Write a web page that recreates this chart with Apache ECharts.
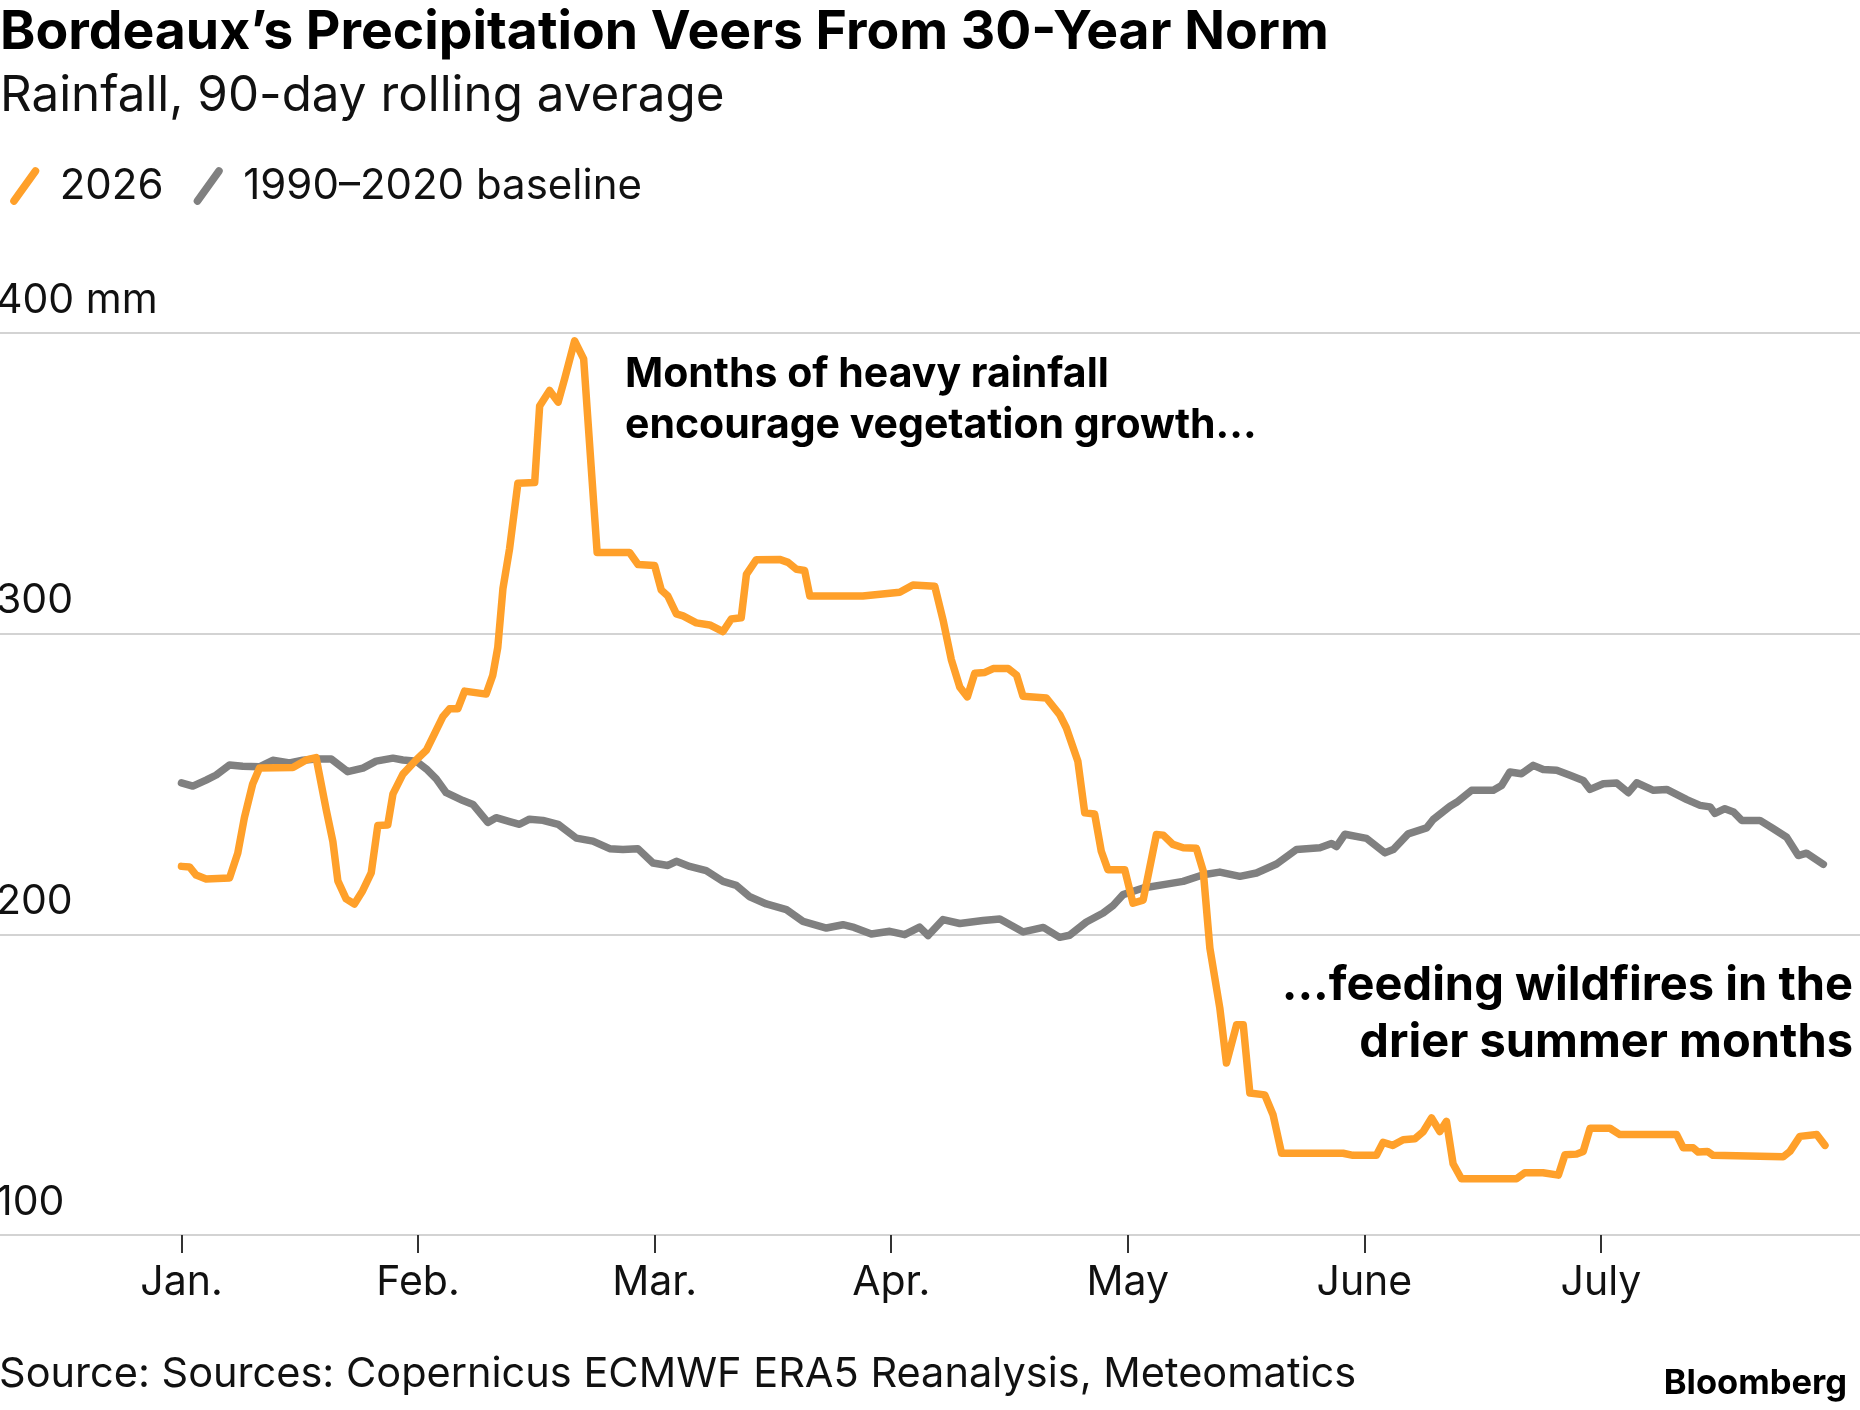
<!DOCTYPE html>
<html>
<head>
<meta charset="utf-8">
<script src="https://cdn.jsdelivr.net/npm/echarts@6.0.0/dist/echarts.min.js"></script>
<style>
  html, body { margin: 0; padding: 0; background: #fff; }
  #chart { width: 1860px; height: 1410px; }
</style>
</head>
<body>
<div id="chart"></div>
<script>
// x values are month positions: 0 = Jan. 1, 1 = Feb. 1, ... (months drawn equally wide)
const monthLabels = ['Jan.', 'Feb.', 'Mar.', 'Apr.', 'May', 'June', 'July'];
const monthTicks = [0, 1, 2, 3, 4, 5, 6];
const yTicks = [100, 200, 300, 400];

// 2026 rainfall, 90-day rolling average (mm)
const rain2026 = [
  [0, 222.6], [0.034, 222.4], [0.062, 219.7], [0.104, 218.4], [0.203, 218.7], [0.238, 227],
  [0.266, 238.8], [0.301, 250], [0.33, 255.3], [0.471, 255.5], [0.527, 258], [0.569, 258.8],
  [0.612, 241.4], [0.64, 230.9], [0.661, 217.8], [0.696, 211.8], [0.731, 210.1], [0.766, 214.5],
  [0.802, 220.4], [0.83, 236.2], [0.872, 236.4], [0.894, 246.7], [0.936, 253.3], [0.992, 258],
  [1.035, 261.2], [1.105, 272.4], [1.133, 275], [1.168, 275], [1.197, 280.9], [1.288, 279.9],
  [1.316, 286.2], [1.337, 295.4], [1.359, 315.1], [1.387, 328.3], [1.422, 350], [1.493, 350.3],
  [1.514, 375.7], [1.556, 380.9], [1.592, 377], [1.62, 384.9], [1.662, 397.4], [1.70, 391.4],
  [1.757, 327], [1.894, 327], [1.93, 323], [2.0, 322.7], [2.028, 314.5], [2.056, 312.5],
  [2.092, 306.6], [2.12, 305.9], [2.176, 303.6], [2.233, 302.9], [2.289, 300.7], [2.324, 304.9],
  [2.366, 305.3], [2.388, 319.7], [2.43, 324.6], [2.528, 324.7], [2.564, 323.7], [2.6, 321.4],
  [2.634, 321], [2.656, 312.5], [2.88, 312.5], [3.036, 313.8], [3.092, 316.2], [3.184, 315.8],
  [3.219, 304.6], [3.254, 291.4], [3.29, 282.2], [3.322, 279], [3.353, 286.8], [3.396, 287.1],
  [3.431, 288.4], [3.494, 288.4], [3.53, 286.2], [3.557, 279.2], [3.656, 278.6], [3.712, 273.1],
  [3.74, 268.7], [3.789, 257.6], [3.818, 240.4], [3.86, 240], [3.888, 227.6], [3.916, 221.5],
  [3.987, 221.5], [4.022, 210.4], [4.065, 211.4], [4.121, 233.2], [4.15, 233], [4.191, 229.9],
  [4.234, 228.8], [4.29, 228.6], [4.319, 221], [4.347, 195.4], [4.389, 175.5], [4.417, 157.2],
  [4.46, 169.9], [4.488, 169.9], [4.516, 147.2], [4.579, 146.6], [4.614, 140], [4.65, 127.2],
  [4.91, 127.2], [4.952, 126.5], [5.051, 126.5], [5.079, 130.8], [5.12, 129.8], [5.164, 131.7],
  [5.213, 132], [5.249, 134.4], [5.284, 138.9], [5.319, 134.4], [5.347, 137.8], [5.375, 123.7],
  [5.41, 118.7], [5.643, 118.7], [5.678, 120.7], [5.755, 120.7], [5.82, 119.9], [5.848, 126.7],
  [5.897, 126.9], [5.925, 127.8], [5.954, 135.5], [6.038, 135.5], [6.08, 133.4], [6.32, 133.4],
  [6.348, 129], [6.39, 129], [6.411, 127.6], [6.45, 127.8], [6.474, 126.5], [6.77, 126],
  [6.799, 127.8], [6.841, 132.8], [6.912, 133.4], [6.947, 129.8]
];

// 1990-2020 baseline (mm)
const baseline = [
  [0, 250.4], [0.048, 249.3], [0.104, 251.3], [0.147, 253], [0.203, 256.3], [0.259, 255.9],
  [0.33, 255.7], [0.386, 257.9], [0.457, 257], [0.513, 257.9], [0.569, 258.3], [0.633, 258.3],
  [0.703, 254.1], [0.767, 255.3], [0.823, 257.6], [0.894, 258.6], [0.936, 258], [0.992, 257.6],
  [1.035, 255], [1.077, 251.7], [1.119, 247.1], [1.19, 244.5], [1.232, 243.2], [1.295, 237.2],
  [1.33, 238.8], [1.387, 237.5], [1.429, 236.6], [1.471, 238.3], [1.528, 237.9], [1.592, 236.6],
  [1.669, 232], [1.739, 231], [1.81, 228.5], [1.866, 228.2], [1.929, 228.5], [1.993, 223.7],
  [2.056, 222.9], [2.092, 224.3], [2.148, 222.6], [2.218, 221.2], [2.289, 217.6], [2.345, 216.3],
  [2.4, 212.6], [2.472, 210.1], [2.557, 208.2], [2.627, 204.3], [2.726, 202.1], [2.796, 203.2],
  [2.843, 202.3], [2.916, 200.1], [2.994, 201], [3.057, 199.9], [3.12, 202.4], [3.156, 199.6],
  [3.219, 204.9], [3.29, 203.6], [3.388, 204.6], [3.459, 205.1], [3.558, 200.8], [3.643, 202.3],
  [3.712, 199], [3.754, 199.7], [3.825, 204.1], [3.896, 207.1], [3.938, 209.6], [3.98, 213.2],
  [4.065, 215.4], [4.164, 216.7], [4.234, 217.6], [4.319, 219.8], [4.389, 220.7], [4.474, 219.3],
  [4.544, 220.4], [4.629, 223.4], [4.713, 228.2], [4.812, 228.8], [4.861, 230.2], [4.882, 229.2],
  [4.918, 233.3], [5.009, 231.9], [5.087, 227.1], [5.122, 228.2], [5.185, 233.4], [5.263, 235.4],
  [5.291, 238.2], [5.362, 242.6], [5.39, 243.9], [5.453, 247.9], [5.545, 247.9], [5.58, 249.5],
  [5.615, 254], [5.664, 253.4], [5.714, 256.2], [5.756, 254.8], [5.813, 254.6], [5.869, 252.9],
  [5.925, 251.2], [5.954, 248.2], [6.01, 250.1], [6.067, 250.3], [6.116, 247.1], [6.151, 250.4],
  [6.222, 247.9], [6.278, 248.2], [6.363, 244.8], [6.419, 242.9], [6.461, 242.4], [6.482, 240.2],
  [6.524, 241.8], [6.56, 240.7], [6.595, 237.9], [6.672, 237.9], [6.729, 235.1], [6.785, 232.3],
  [6.834, 226.2], [6.869, 227], [6.94, 223.3]
];

const FONT = 'Inter, "Liberation Sans", sans-serif';
const ORANGE = '#ffa02a';
const GRAY = '#808080';
const slash = 'path://M2,30 L22,2 Q24,-1 27,1 Q30,3 28,6 L8,34 Q6,37 3,35 Q0,33 2,30 Z';

const chart = echarts.init(document.getElementById('chart'), null, { renderer: 'canvas' });

const option = {
  animation: false,
  backgroundColor: '#fff',
  textStyle: { fontFamily: FONT },
  title: [
    {
      text: 'Bordeaux’s Precipitation Veers From 30-Year Norm',
      left: -5, top: 1,
      textStyle: { fontFamily: FONT, fontSize: 53.5, fontWeight: 'bold', color: '#000' }
    },
    {
      text: 'Rainfall, 90-day rolling average',
      left: -5, top: 67,
      textStyle: { fontFamily: FONT, fontSize: 49.3, fontWeight: 'normal', color: '#111' }
    },
    {
      text: 'Source: Sources: Copernicus ECMWF ERA5 Reanalysis, Meteomatics',
      left: -6, top: 1349,
      textStyle: { fontFamily: FONT, fontSize: 41.5, fontWeight: 'normal', color: '#111' }
    },
    {
      text: 'Bloomberg',
      right: 8, top: 1361,
      textStyle: { fontFamily: FONT, fontSize: 34.5, fontWeight: 'bold', color: '#000' }
    }
  ],
  legend: {
    left: 5, top: 160,
    data: ['2026', '1990–2020 baseline'],
    icon: slash,
    itemWidth: 32, itemHeight: 38,
    itemGap: 30,
    selectedMode: false,
    textStyle: { fontFamily: FONT, fontSize: 42, color: '#111', padding: [0, 0, 0, 14] }
  },
  grid: { left: 0, right: 0, top: 333, bottom: 175, containLabel: false, outerBoundsMode: 'none' },
  xAxis: {
    type: 'value',
    min: -0.767, max: 7.095,
    axisLine: { show: true, lineStyle: { color: '#d3d3d3', width: 2 } },
    axisTick: { show: true, customValues: monthTicks, length: 18, lineStyle: { color: '#333', width: 2 } },
    axisLabel: {
      customValues: monthTicks,
      formatter: (v) => monthLabels[Math.round(v)],
      margin: 27,
      fontFamily: FONT, fontSize: 41, color: '#111'
    },
    splitLine: { show: false }
  },
  yAxis: {
    type: 'value',
    min: 100, max: 400, interval: 100,
    axisLine: { show: false },
    axisTick: { show: false },
    axisLabel: {
      inside: true,
      margin: -4,
      align: 'left',
      verticalAlign: 'bottom',
      padding: [0, 0, 12, 0],
      formatter: (v) => (v === 400 ? v + ' mm' : String(v)),
      customValues: yTicks,
      fontFamily: FONT, fontSize: 41, color: '#111'
    },
    splitLine: { show: true, lineStyle: { color: '#d3d3d3', width: 2 } }
  },
  graphic: [
    {
      type: 'text',
      left: 625, top: 349,
      style: {
        text: 'Months of heavy rainfall\nencourage vegetation growth...',
        font: 'bold 41px ' + FONT,
        lineHeight: 51,
        fill: '#000'
      }
    },
    {
      type: 'text',
      right: 7, top: 957,
      style: {
        text: '...feeding wildfires in the\ndrier summer months',
        font: 'bold 47px ' + FONT,
        lineHeight: 57,
        textAlign: 'right',
        align: 'right',
        fill: '#000'
      }
    }
  ],
  series: [
    {
      name: '1990–2020 baseline',
      type: 'line',
      data: baseline,
      showSymbol: false,
      itemStyle: { color: GRAY },
      lineStyle: { color: GRAY, width: 7.5, join: 'round', cap: 'round' }
    },
    {
      name: '2026',
      type: 'line',
      data: rain2026,
      showSymbol: false,
      itemStyle: { color: ORANGE },
      lineStyle: { color: ORANGE, width: 7.5, join: 'round', cap: 'round' }
    }
  ]
};

chart.setOption(option);
window.addEventListener('resize', chart.resize);
</script>
</body>
</html>
